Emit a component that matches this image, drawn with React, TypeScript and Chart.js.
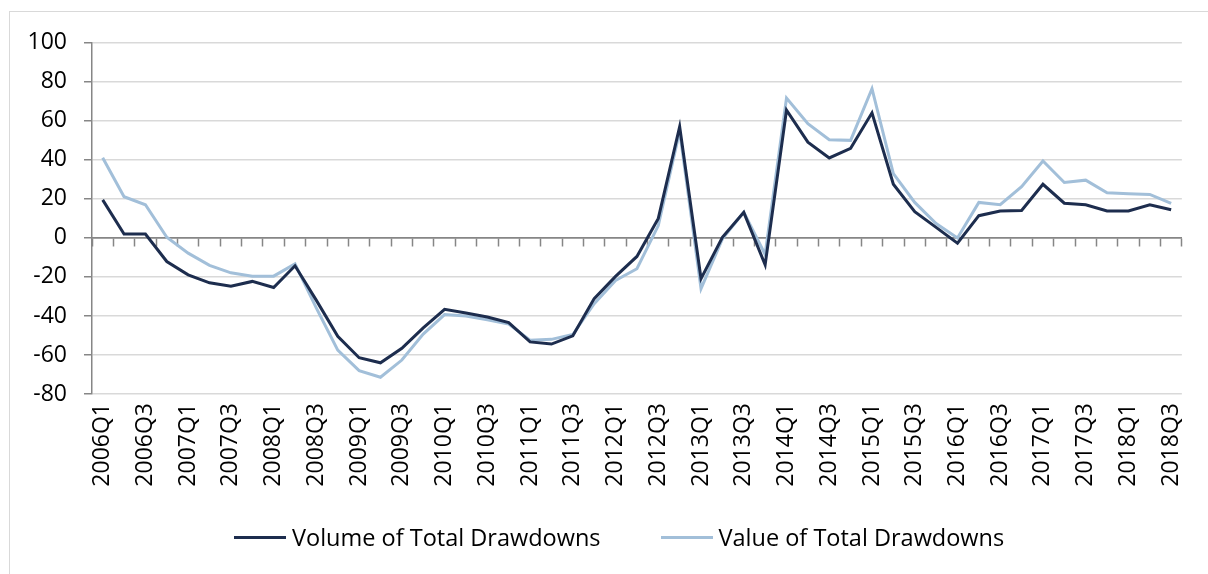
import React, { useEffect, useRef } from "react";
import { Chart, registerables } from "chart.js";

Chart.register(...registerables);

const quarters: string[] = [
  "2006Q1","2006Q2","2006Q3","2006Q4",
  "2007Q1","2007Q2","2007Q3","2007Q4",
  "2008Q1","2008Q2","2008Q3","2008Q4",
  "2009Q1","2009Q2","2009Q3","2009Q4",
  "2010Q1","2010Q2","2010Q3","2010Q4",
  "2011Q1","2011Q2","2011Q3","2011Q4",
  "2012Q1","2012Q2","2012Q3","2012Q4",
  "2013Q1","2013Q2","2013Q3","2013Q4",
  "2014Q1","2014Q2","2014Q3","2014Q4",
  "2015Q1","2015Q2","2015Q3","2015Q4",
  "2016Q1","2016Q2","2016Q3","2016Q4",
  "2017Q1","2017Q2","2017Q3","2017Q4",
  "2018Q1","2018Q2","2018Q3",
];

const volumeOfTotalDrawdowns: number[] = [
  19.5, 2.0, 2.0, -12.1, -18.9, -23.0, -24.8, -22.3, -25.4, -14.3,
  -32.0, -50.4, -61.4, -64.0, -56.6, -46.1, -36.6, -38.5, -40.5, -43.4,
  -53.3, -54.4, -50.2, -31.1, -19.7, -9.5, 10.0, 57.0, -20.9, 0.3,
  13.1, -13.8, 65.5, 49.1, 41.0, 45.9, 64.1, 27.5, 13.4, 5.4,
  -2.7, 11.4, 13.8, 14.1, 27.5, 17.8, 17.0, 13.8, 13.8, 17.0, 14.4,
];

const valueOfTotalDrawdowns: number[] = [
  41.1, 21.1, 17.0, 0.3, -7.8, -14.1, -17.9, -19.6, -19.6, -13.3,
  -36.0, -57.5, -68.0, -71.4, -62.6, -49.3, -39.3, -40.0, -41.9, -44.2,
  -52.4, -52.0, -49.5, -33.7, -21.8, -15.8, 6.3, 54.7, -26.0, -0.5,
  13.1, -8.5, 71.7, 58.5, 50.3, 50.0, 76.5, 33.0, 18.2, 7.4,
  0.0, 18.2, 17.0, 26.3, 39.4, 28.4, 29.6, 23.1, 22.6, 22.3, 17.7,
];

const seriesNames: string[] = ["Volume of Total Drawdowns", "Value of Total Drawdowns"];
const seriesColors: string[] = ["#1d2d4e", "#a2bfd9"];

const yMin = -80;
const yMax = 100;
const yStep = 20;

const FONT = "'Open Sans', 'Liberation Sans', sans-serif";

export default function App() {
  const canvasRef = useRef<HTMLCanvasElement | null>(null);

  useEffect(() => {
    if (!canvasRef.current) return;
    const chart = new Chart(canvasRef.current, {
      type: "line",
      data: {
        labels: quarters,
        datasets: [
          {
            label: seriesNames[0],
            data: volumeOfTotalDrawdowns,
            borderColor: seriesColors[0],
            backgroundColor: seriesColors[0],
            borderWidth: 3,
            pointRadius: 0,
            tension: 0,
            order: 1,
          },
          {
            label: seriesNames[1],
            data: valueOfTotalDrawdowns,
            borderColor: seriesColors[1],
            backgroundColor: seriesColors[1],
            borderWidth: 3,
            pointRadius: 0,
            tension: 0,
            order: 2,
          },
        ],
      },
      options: {
        animation: false,
        responsive: false,
        devicePixelRatio: 1,
        layout: { padding: { left: 0, right: 24, top: 29, bottom: 50 } },
        plugins: {
          legend: { display: false },
          tooltip: { enabled: false },
        },
        scales: {
          x: {
            type: "category",
            position: "bottom",
            offset: true,
            grid: { display: false, drawTicks: false },
            border: { display: false },
            ticks: {
              autoSkip: false,
              minRotation: 90,
              maxRotation: 90,
              padding: 9,
              color: "#000",
              font: { family: FONT, size: 23 },
              callback: (_v: any, i: number) => (i % 2 === 0 ? quarters[i] : ""),
            },
            afterFit: (s: any) => {
              s.height = 130;
            },
          },
          x0: {
            type: "category",
            position: { y: 0 } as any,
            offset: true,
            grid: {
              display: true,
              offset: true,
              drawOnChartArea: false,
              drawTicks: true,
              tickLength: 8,
              tickColor: "#868686",
              tickWidth: 1.5,
              color: "#868686",
            },
            border: { display: true, color: "#868686", width: 1.5 },
            ticks: { display: false, autoSkip: false },
          },
          y: {
            min: yMin,
            max: yMax,
            ticks: {
              stepSize: yStep,
              padding: 17,
              color: "#000",
              font: { family: FONT, size: 23 },
            },
            grid: {
              color: (ctx: any) => (ctx.tick && ctx.tick.value === 0 ? "#868686" : "#d9d9d9"),
              lineWidth: 1.5,
              drawTicks: true,
              tickLength: 8,
              tickColor: "#868686",
              tickWidth: 1.5,
            },
            border: { display: true, color: "#868686", width: 1.5 },
            afterFit: (s: any) => {
              s.width = 82;
            },
          },
        },
      },
    });
    return () => chart.destroy();
  }, []);

  const legendItem = (i: number) => (
    <div key={i} style={{ display: "flex", alignItems: "center" }}>
      <div style={{ width: 52, height: 3, background: seriesColors[i], marginRight: 6 }} />
      <span>{seriesNames[i]}</span>
    </div>
  );

  return (
    <div
      style={{
        position: "absolute",
        left: 9,
        top: 11,
        width: 1199,
        height: 563,
        boxSizing: "border-box",
        borderLeft: "1px solid #d9d9d9",
        borderTop: "1px solid #d9d9d9",
        background: "#fff",
        overflow: "hidden",
      }}
    >
      <canvas
        ref={canvasRef}
        width={1198}
        height={562}
        style={{ position: "absolute", left: 0, top: 0, width: 1198, height: 562 }}
      />
      <div
        style={{
          position: "absolute",
          left: 224,
          top: 509,
          height: 32,
          lineHeight: "32px",
          display: "flex",
          gap: 60,
          fontFamily: FONT,
          fontSize: 23.5,
          color: "#000",
          whiteSpace: "nowrap",
        }}
      >
        {legendItem(0)}
        {legendItem(1)}
      </div>
    </div>
  );
}
